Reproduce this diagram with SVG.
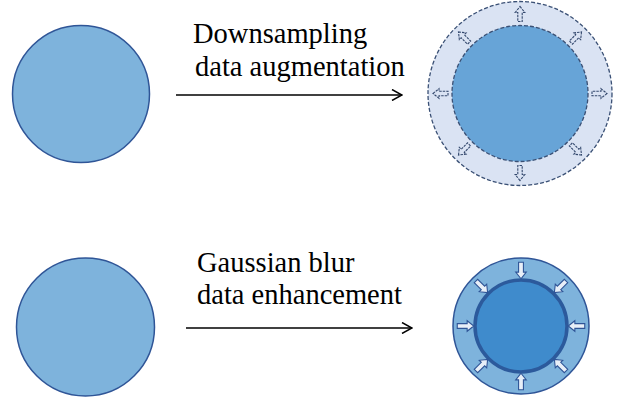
<svg xmlns="http://www.w3.org/2000/svg" xmlns:xlink="http://www.w3.org/1999/xlink" width="626" height="400" viewBox="0 0 626 400">
<style>
.src{fill:#7EB3DC;stroke:#2F5597;stroke-width:1.5}
.lbl{font-family:"Liberation Serif","Times New Roman",serif;font-size:28.5px;fill:#000}
.conn{stroke:#000;stroke-width:1.5;fill:none}
.ring1{fill:#DAE3F3;stroke:#3A5075;stroke-width:1.3;stroke-dasharray:4 2}
.core1{fill:#67A4D7;stroke:#3A5075;stroke-width:1.3;stroke-dasharray:4 2}
.sa1{fill:#DAE3F3;stroke:#34496E;stroke-width:1.1;stroke-dasharray:2.5 1}
.ring2{fill:#7EB3DC;stroke:#2F5597;stroke-width:1.5}
.core2{fill:#3F8BCC;stroke:#2C5A9C;stroke-width:3.5}
.sa2{fill:#E8EFF8;stroke:#2F5597;stroke-width:1}
</style>
<defs>
<path id="sa" d="M0,-7.5 L4.8,-1.5 L2.2,-1.5 L2.2,7.5 L-2.2,7.5 L-2.2,-1.5 L-4.8,-1.5 Z"/>
<marker id="open" viewBox="0 0 12 12" refX="11" refY="6" markerWidth="12" markerHeight="12" markerUnits="userSpaceOnUse" orient="auto">
<path d="M1,0.5 L11,6 L1,11.5" fill="none" stroke="#000" stroke-width="1.5"/>
</marker>
</defs>
<g id="src-top"><circle class="src" cx="81" cy="94" r="68.5"/></g>
<g id="src-bottom"><circle class="src" cx="85.5" cy="327" r="69"/></g>
<g id="labels">
<text class="lbl" x="193" y="43">Downsampling</text>
<text class="lbl" x="195" y="76">data augmentation</text>
<text class="lbl" x="197" y="272">Gaussian blur</text>
<text class="lbl" x="197" y="304">data enhancement</text>
</g>
<g id="connectors">
<line class="conn" x1="176" y1="95" x2="402" y2="95" marker-end="url(#open)"/>
<line class="conn" x1="186" y1="328" x2="412" y2="328" marker-end="url(#open)"/>
</g>
<g id="downsampled">
<circle class="ring1" cx="520" cy="93.5" r="92"/>
<circle class="core1" cx="520" cy="93.5" r="68"/>
<g class="sa1">
<use xlink:href="#sa" transform="translate(520,14) rotate(0)"/>
<use xlink:href="#sa" transform="translate(576.2,37.3) rotate(45)"/>
<use xlink:href="#sa" transform="translate(599.5,93.5) rotate(90)"/>
<use xlink:href="#sa" transform="translate(576.2,149.7) rotate(135)"/>
<use xlink:href="#sa" transform="translate(520,173) rotate(180)"/>
<use xlink:href="#sa" transform="translate(463.8,149.7) rotate(225)"/>
<use xlink:href="#sa" transform="translate(440.5,93.5) rotate(270)"/>
<use xlink:href="#sa" transform="translate(463.8,37.3) rotate(315)"/>
</g>
</g>
<g id="blurred">
<circle class="ring2" cx="521" cy="326" r="68"/>
<circle class="core2" cx="521" cy="326" r="46"/>
<g class="sa2">
<use xlink:href="#sa" transform="translate(521,270.5) rotate(180) scale(1.1)"/>
<use xlink:href="#sa" transform="translate(560.2,286.8) rotate(225) scale(1.1)"/>
<use xlink:href="#sa" transform="translate(576.5,326) rotate(270) scale(1.1)"/>
<use xlink:href="#sa" transform="translate(560.2,365.2) rotate(315) scale(1.1)"/>
<use xlink:href="#sa" transform="translate(521,381.5) rotate(0) scale(1.1)"/>
<use xlink:href="#sa" transform="translate(481.8,365.2) rotate(45) scale(1.1)"/>
<use xlink:href="#sa" transform="translate(465.5,326) rotate(90) scale(1.1)"/>
<use xlink:href="#sa" transform="translate(481.8,286.8) rotate(135) scale(1.1)"/>
</g>
</g>
</svg>
